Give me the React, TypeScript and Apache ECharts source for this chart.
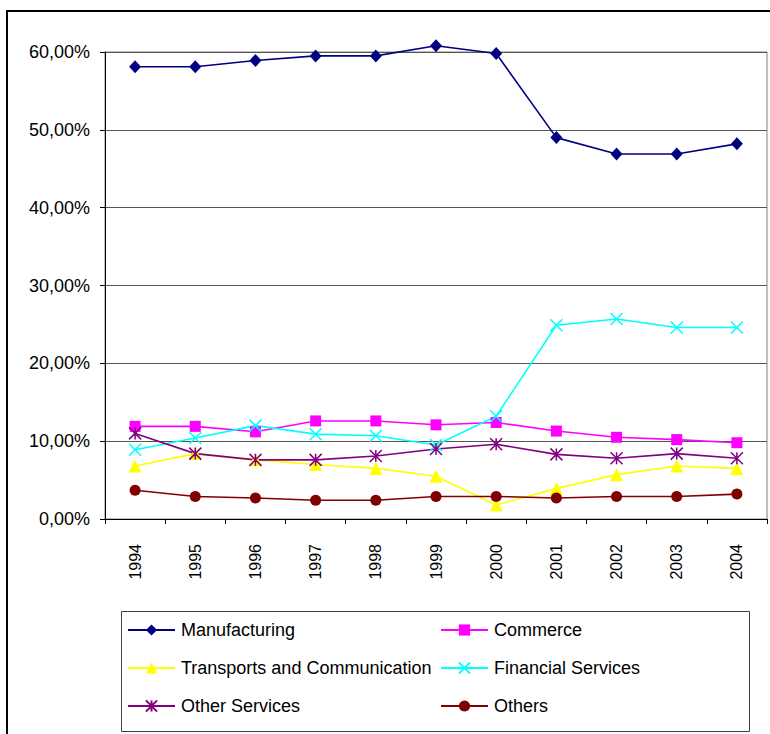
import React, { useEffect, useRef } from "react";
import * as echarts from "echarts";

const years = ["1994", "1995", "1996", "1997", "1998", "1999", "2000", "2001", "2002", "2003", "2004"];
const manufacturing = [58.1, 58.1, 58.9, 59.5, 59.5, 60.8, 59.8, 49.0, 46.9, 46.9, 48.2];
const commerce = [11.9, 11.9, 11.2, 12.6, 12.6, 12.1, 12.4, 11.3, 10.5, 10.2, 9.8];
const transports = [6.8, 8.4, 7.6, 7.0, 6.5, 5.5, 1.8, 3.9, 5.7, 6.8, 6.5];
const financial = [8.9, 10.4, 12.0, 10.9, 10.7, 9.5, 13.2, 24.9, 25.7, 24.6, 24.6];
const otherServices = [11.0, 8.4, 7.6, 7.6, 8.1, 9.0, 9.6, 8.3, 7.8, 8.4, 7.8];
const others = [3.7, 2.9, 2.7, 2.4, 2.4, 2.9, 2.9, 2.7, 2.9, 2.9, 3.2];
const yTicks = { min: 0, max: 60, interval: 10 };

const FONT = "'Liberation Sans', Arial, sans-serif";
const X_SYMBOL = "path://M0,0L10,10M10,0L0,10";
const STAR_SYMBOL = "path://M0,0L10,10M10,0L0,10M5,0L5,10";

export default function App() {
  const ref = useRef<HTMLDivElement>(null);
  useEffect(() => {
    if (!ref.current) return;
    const chart = echarts.init(ref.current, undefined, { renderer: "svg" });
    const mk = (name: string, data: number[], color: string, symbol: string, size: number | number[], stroke = false, clip = true) => ({
      name,
      type: "line",
      data,
      color,
      symbol,
      symbolSize: size,
      clip,
      lineStyle: { color, width: 1.6 },
      itemStyle: stroke
        ? { color, borderColor: color, borderWidth: 1.5 }
        : { color, borderWidth: 0 },
    });
    const rows = [630, 668, 706];
    const cols = [127, 440];
    const names = ["Manufacturing", "Commerce", "Transports and Communication", "Financial Services", "Other Services", "Others"];
    const legends = names.map((n, i) => ({
      data: [n],
      left: cols[i % 2],
      top: rows[Math.floor(i / 2)] - 10,
      padding: 0,
      itemWidth: 47,
      itemHeight: 14,
      itemGap: 0,
      textStyle: { fontFamily: FONT, fontSize: 18, color: "#000", lineHeight: 20, padding: [0, 0, 0, 1] },
    }));
    chart.setOption({
      animation: false,
      backgroundColor: "#fff",
      textStyle: { fontFamily: FONT },
      grid: { left: 105, top: 52, right: 3, bottom: 215, show: true, borderColor: "#808080", borderWidth: 1 },
      legend: legends,
      xAxis: {
        type: "category",
        data: years,
        boundaryGap: true,
        axisLine: { lineStyle: { color: "#000", width: 1 } },
        axisTick: { show: true, interval: 0, length: 5, lineStyle: { color: "#000" } },
        axisLabel: { rotate: 90, interval: 0, margin: 25, fontSize: 16, color: "#000", fontFamily: FONT },
        splitLine: { show: false },
      },
      yAxis: {
        type: "value",
        min: yTicks.min,
        max: yTicks.max,
        interval: yTicks.interval,
        axisLine: { show: true, lineStyle: { color: "#000", width: 1 } },
        axisTick: { show: true, length: 5, lineStyle: { color: "#000" } },
        axisLabel: {
          margin: 15,
          fontSize: 18,
          color: "#000",
          fontFamily: FONT,
          formatter: (v: number) => v.toFixed(2).replace(".", ",") + "%",
        },
        splitLine: { show: true, lineStyle: { color: "#555", width: 1 } },
      },
      graphic: [
        { type: "rect", shape: { x: 7, y: 11, width: 900, height: 900 }, style: { fill: "none", stroke: "#000", lineWidth: 2 }, silent: true, z: 100 },
        { type: "rect", shape: { x: 121.5, y: 611.5, width: 628, height: 120 }, style: { fill: "none", stroke: "#404040", lineWidth: 1 }, silent: true, z: 100 },
      ],
      series: [
        mk("Manufacturing", manufacturing, "#000080", "diamond", [12, 13], false, false),
        mk("Commerce", commerce, "#FF00FF", "rect", 11),
        mk("Transports and Communication", transports, "#FFFF00", "triangle", 13),
        mk("Financial Services", financial, "#00FFFF", X_SYMBOL, 12, true),
        mk("Other Services", otherServices, "#800080", STAR_SYMBOL, 12, true),
        mk("Others", others, "#800000", "circle", 11),
      ],
    });
    return () => chart.dispose();
  }, []);
  return <div ref={ref} style={{ position: "fixed", left: 0, top: 0, width: 770, height: 734 }} />;
}
